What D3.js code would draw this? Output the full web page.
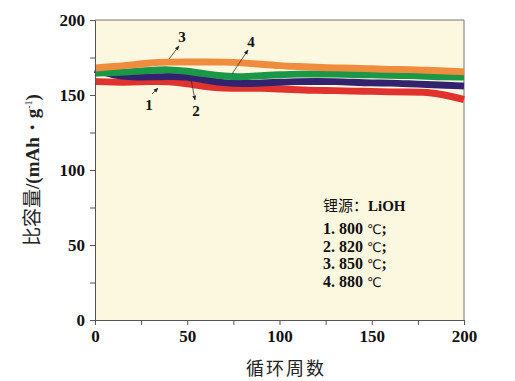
<!DOCTYPE html>
<html><head><meta charset="utf-8">
<script src="https://cdn.jsdelivr.net/npm/d3@7"></script>
<style>body{margin:0;background:#fff}svg{display:block}</style>
</head><body>
<svg id="c" width="515" height="381"></svg>
<script>
const cycles = [0,10,20,30,40,50,60,70,80,90,100,110,120,130,140,150,160,170,180,190,200];
const s1_800 = [159,158.5,158.5,159,159,157.5,155.5,154.5,154.5,154.5,154,153.5,153,153,152.5,152.5,152,152,152,150,147];
const s2_820 = [167,163,162,162,162.5,162,160,158,157.5,158,158.5,159,159,159,158.5,158,158,157.5,157,156.5,156];
const s3_850 = [168,169,170,171.5,172,172,172,172,171.5,170.5,169.5,169,168.5,168,168,167.5,167,167,166.5,166,165.5];
const s4_880 = [164.5,165,165.5,166.5,167,166,164,162.5,162,163,163.5,164,164,164,163.5,163.5,163,163,162.5,162,162];
const xTicks = [0,50,100,150,200];
const yTicks = [0,50,100,150,200];
const legendNums = ["1. 800 ","2. 820 ","3. 850 ","4. 880 "];
const legendEnds = [";",";",";",""];

const svg = d3.select("#c");
const L=95,R=464,T=20,B=320;
const x = d3.scaleLinear().domain([0,200]).range([L,R]);
const y = d3.scaleLinear().domain([0,200]).range([B,T]);

svg.append("rect").attr("x",L).attr("y",T).attr("width",R-L).attr("height",B-T).attr("fill","#fcf7df");
svg.append("path").attr("d",`M${L},${T}H${R}V${B}`).attr("fill","none").attr("stroke","#777").attr("stroke-width",1);

const series = [
  {v:s1_800,c:"#e0332e"},
  {v:s2_820,c:"#33236e"},
  {v:s4_880,c:"#1b9847"},
  {v:s3_850,c:"#ef8c3d"}
];
const line = d3.line().x((d,i)=>x(cycles[i])).y(d=>y(d)).curve(d3.curveBasis);
series.forEach(s=>{
  svg.append("path").attr("d",line(s.v)).attr("fill","none").attr("stroke",s.c).attr("stroke-width",7).attr("stroke-linecap","butt");
});

const tf = "'Liberation Serif','Times New Roman',serif";
const cjk = "'Noto Sans CJK SC',sans-serif";
const xAx = svg.append("g").attr("transform",`translate(0,${B})`)
  .call(d3.axisBottom(x).tickValues(d3.range(0,201,25)).tickSize(5).tickFormat(d=>xTicks.includes(d)?d:""));
const yAx = svg.append("g").attr("transform",`translate(${L},0)`)
  .call(d3.axisLeft(y).tickValues(d3.range(0,201,25)).tickSize(5).tickFormat(d=>yTicks.includes(d)?d:""));
[xAx,yAx].forEach(g=>{
  g.select(".domain").attr("stroke","#555");
  g.selectAll(".tick line").attr("stroke","#555");
  g.selectAll("text").attr("font-family",tf).attr("font-weight","bold").attr("font-size",17).attr("fill","#111");
});
xAx.selectAll("text").attr("dy","0.85em").attr("y",8);
yAx.selectAll("text").attr("x",-10);

// arrows
const defs = svg.append("defs");
defs.append("marker").attr("id","ah").attr("viewBox","0 0 10 10").attr("refX",9).attr("refY",5)
  .attr("markerWidth",6).attr("markerHeight",6).attr("orient","auto")
  .append("path").attr("d","M0,1L10,5L0,9z").attr("fill","#222");
const arrows = [
  {lab:"3",x1:169,y1:59,x2:179,y2:46,tx:182,ty:42},
  {lab:"4",x1:232,y1:74,x2:248,y2:50,tx:251,ty:47},
  {lab:"1",x1:152,y1:94,x2:158,y2:88,tx:149,ty:110},
  {lab:"2",x1:191,y1:79,x2:195,y2:100,tx:196,ty:116}
];
arrows.forEach(a=>{
  svg.append("line").attr("x1",a.x1).attr("y1",a.y1).attr("x2",a.x2).attr("y2",a.y2)
    .attr("stroke","#333").attr("stroke-width",0.8).attr("marker-end","url(#ah)");
  svg.append("text").attr("x",a.tx).attr("y",a.ty).attr("text-anchor","middle")
    .attr("font-family",tf).attr("font-weight","bold").attr("font-size",15).attr("fill","#111").text(a.lab);
});

// legend
const lg = svg.append("text").attr("x",323).attr("y",211).attr("font-size",15).attr("fill","#111");
lg.append("tspan").attr("font-family",cjk).text("锂源：");
lg.append("tspan").attr("font-family",tf).attr("font-weight","bold").text("LiOH");
legendNums.forEach((t,i)=>{
  const tx = svg.append("text").attr("x",323).attr("y",234+i*17.5).attr("font-size",16).attr("fill","#111");
  tx.append("tspan").attr("font-family",tf).attr("font-weight","bold").text(t);
  tx.append("tspan").attr("font-family","'DejaVu Sans',sans-serif").attr("font-size",13).text("℃");
  tx.append("tspan").attr("font-family",tf).attr("font-weight","bold").text(legendEnds[i]);
});

// axis titles
svg.append("text").attr("x",286).attr("y",375).attr("text-anchor","middle")
  .attr("font-family",cjk).attr("font-size",18).attr("letter-spacing",2).attr("fill","#222").text("循环周数");
const yl = svg.append("text").attr("transform","translate(39,170) rotate(-90)").attr("text-anchor","middle")
  .attr("font-size",19).attr("fill","#222");
yl.append("tspan").attr("font-family",cjk).text("比容量");
yl.append("tspan").attr("font-family",tf).attr("font-weight","bold").text("/(mAh・g");
yl.append("tspan").attr("font-family",tf).attr("font-size",10).attr("dy",-7).text("-1");
yl.append("tspan").attr("font-family",tf).attr("font-weight","bold").attr("dy",7).text(")");
</script>
</body></html>
